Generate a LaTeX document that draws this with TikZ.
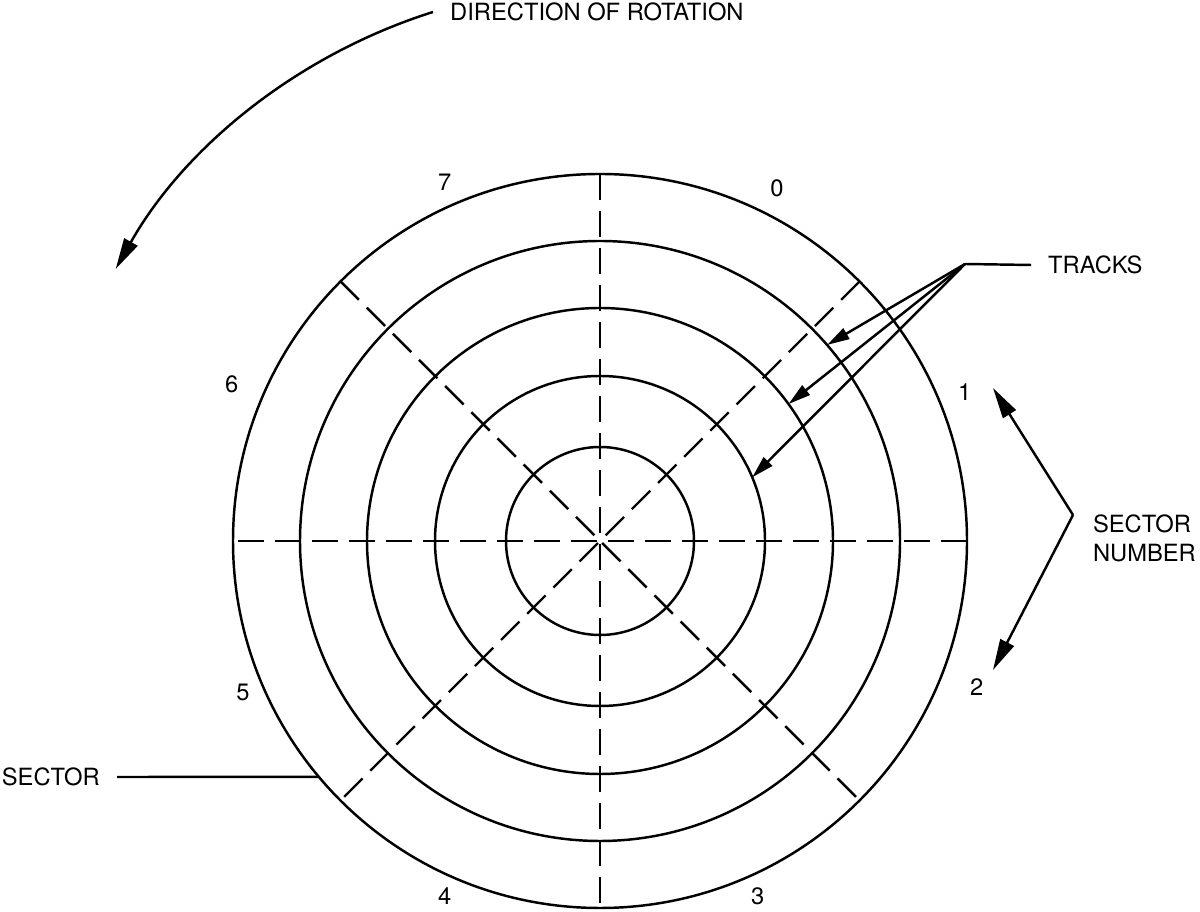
\documentclass[tikz,border=0pt]{standalone}
\usepackage{fontspec}
\setmainfont{TeX Gyre Heros}
\usepackage{tikz}
\usetikzlibrary{arrows.meta, calc}

\begin{document}
\begin{tikzpicture}[x=0.02cm, y=0.02cm, line width=1.4pt,
    >={Triangle[length=0.45cm, width=0.24cm]},
    bigtip/.style={-{Triangle[length=0.62cm, width=0.3cm]}},
    lbl/.style={font=\fontsize{13.5}{16.5}\selectfont},
    leadtxt/.style={lbl, inner xsep=0.32cm},
    sectorline/.style={dash pattern=on 0.52cm off 0.22cm}]
    \useasboundingbox (0,0) rectangle (1200,912);
    \coordinate (C) at (600,371);
    \foreach \r in {94,165,233,300,367} \draw (C) circle (\r);
    \foreach \a in {0,45,90,135}
        \draw[sectorline] ($(C)+(\a:367)$) -- ($(C)+(\a+180:367)$);
    \foreach \n/\a/\r in {0/63.4/395, 1/22.2/394, 2/338.8/404, 3/293.9/389,
                          4/246.4/388, 5/203/388, 6/157/400, 7/113.4/391}
        \node[lbl] (s\n) at ($(C)+(\a:\r)$) {\n};
    \node[leadtxt, anchor=west] (dir) at (433,900) {DIRECTION OF ROTATION};
    \draw[bigtip] (dir.west) arc[start angle=107.5, end angle=150.5, radius=557];
    \node[leadtxt, anchor=west] (tracks) at (1031,647) {TRACKS};
    \coordinate (trk) at (965,648);
    \draw (tracks.west) -- (trk);
    \draw[->] (trk) -- ($(C)+(40.8:300)$);
    \draw[->] (trk) -- ($(C)+(36:233)$);
    \draw[->] (trk) -- ($(C)+(22.7:165)$);
    \node[lbl, align=left, anchor=west] (secnum) at (1086,374) {SECTOR\\NUMBER};
    \coordinate (apex) at (1073,397);
    \coordinate (up) at (993,524);
    \coordinate (dn) at (993,242);
    \draw[bigtip] (apex) -- (up);
    \draw[bigtip] (apex) -- (dn);
    \node[leadtxt, anchor=east] (sector) at (117,135) {SECTOR};
    \draw (sector.east) -- ($(C)+(220:367)$);
\end{tikzpicture}
\end{document}
